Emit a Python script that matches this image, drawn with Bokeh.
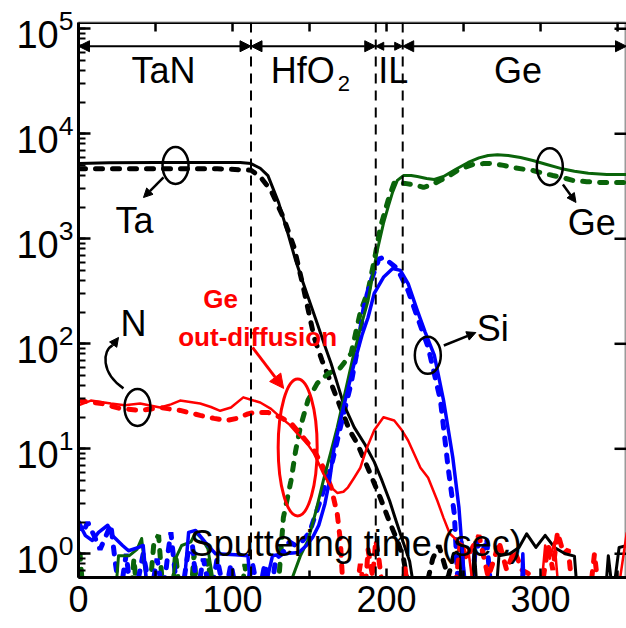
from bokeh.plotting import figure
from bokeh.models import (Range1d, FixedTicker, LogTicker, Span, Arrow, NormalHead)
from bokeh.core.properties import value
from bokeh.embed import file_html
from bokeh.resources import INLINE

FONT = "Liberation Sans"

# ---------------- data ----------------
# Ta, solid
ta_s_x = [0, 20, 50, 80, 105, 112, 118, 123, 130, 136, 141, 146, 151, 155, 160, 164, 168, 172, 179, 186,
          192, 197, 202, 206, 210, 215, 218, 222, 247, 249, 251, 255, 257, 259, 271, 273, 280, 286, 291,
          297, 303, 309, 316, 322, 324, 342, 344, 347, 351, 356]
ta_s_y = [5200, 5300, 5330, 5330, 5330, 5200, 4700, 4000, 2200, 1120, 620, 375, 230, 156, 95, 65, 42, 27, 16, 11,
          7.5, 5.0, 3.2, 2.1, 1.4, 0.85, 0.45, 0.4, 0.4, 1.3, 0.4, 0.4, 1.1, 0.4, 0.4, 0.96, 1.0, 1.15, 1.55,
          1.15, 1.5, 1.15, 1.0, 0.95, 0.4, 0.4, 0.96, 0.4, 1.15, 1.2]
# Ta, dashed
ta_d_x = [0, 30, 60, 90, 112, 118, 125, 133, 140, 146, 153, 158, 162, 170, 176, 181, 188, 196, 202, 207,
          211, 214, 226, 230, 234, 240, 246, 250]
ta_d_y = [4650, 4650, 4650, 4650, 4500, 3900, 2880, 1600, 826, 344, 115, 70, 50, 25, 15, 11.2, 6.5, 3.4, 2.0, 1.34,
          0.9, 0.5, 0.5, 0.9, 1.2, 0.6, 1.3, 0.4]
# Ge, solid
ge_s_x = [0, 24, 26, 33, 38, 41, 45, 60, 63, 67, 73, 76, 80, 84, 89, 137, 139, 144, 149, 154, 159, 164, 168,
          173, 178, 183, 188, 194, 198, 201, 204, 207, 211, 216, 220, 226, 231, 237, 245, 253, 260, 266, 272,
          279, 287, 295, 304, 313, 322, 331, 343, 356]
ge_s_y = [0.4, 0.4, 0.96, 0.96, 1.1, 1.4, 0.4, 0.4, 0.9, 1.2, 1.3, 1.6, 1.4, 1.12, 0.4, 0.4, 0.6, 0.95, 1.34,
          2.5, 5, 9.5, 16, 34, 72, 140, 258, 775, 1400, 2000, 2800, 3600, 4000, 4000, 3920, 3750, 3670, 3920,
          4600, 5330, 5900, 6220, 6300, 6220, 5950, 5570, 5100, 4680, 4400, 4200, 4100, 4100]
# Ge, dashed
ge_d_x = [0, 1, 3, 34, 36, 38, 46, 49, 52, 55, 61, 63, 66, 73, 75, 77, 82, 84, 87, 106, 108, 110, 127, 130,
          133, 138, 141, 144, 149, 155, 162, 170, 177, 183, 188, 192, 196, 201, 205, 212, 220, 224, 230, 235,
          241, 246, 251, 256, 263, 269, 276, 282, 289, 295, 302, 308, 315, 321, 330, 339, 356]
ge_d_y = [1.0, 1.0, 0.4, 0.4, 0.9, 0.4, 0.4, 1.3, 1.5, 0.4, 0.4, 1.0, 0.4, 0.4, 1.0, 0.4, 0.4, 0.9, 0.4, 0.4,
          0.8, 0.4, 0.4, 0.55, 2.2, 5, 9.6, 16, 29, 42, 52, 59, 81, 200, 320, 620, 1290, 2320, 3440, 3370, 3220,
          3080, 3300, 3600, 4000, 4470, 4800, 5100, 5200, 5210, 5000, 4780, 4600, 4470, 4200, 4010, 3800, 3600,
          3500, 3440, 3440]
# Si, solid
si_s_x = [0, 4.5, 9, 13, 19, 22, 28.6, 32.5, 39, 42, 45, 68, 71.5, 76, 82.5, 89, 102, 110, 112, 120, 126,
          133, 143, 148, 152, 156, 160, 163, 166, 172, 179, 184, 188, 192, 198, 204, 209, 214, 220, 225, 231,
          237, 243, 247, 250, 252, 287.5, 288.5, 289.5, 356]
si_s_y = [1.99, 1.49, 1.34, 1.6, 1.87, 1.49, 1.2, 1.07, 1.15, 1.2, 0.4, 0.4, 1.6, 1.67, 1.28, 1.0, 0.98, 0.96,
          0.4, 0.4, 0.96, 1.0, 1.03, 1.2, 1.43, 1.87, 3.0, 5.0, 10.3, 24.7, 65, 120, 178, 302, 430, 521, 500,
          375, 207, 130, 78, 29, 8.3, 2.76, 0.74, 0.4, 0.4, 1.0, 0.4, 0.4]
# Si, dashed
si_d_x = [0, 3, 6, 10, 14, 18, 21, 24, 27, 31, 34, 38, 42, 47, 51, 55, 58, 60, 63, 67, 71, 74, 77, 81, 86, 90,
          95, 99, 103, 108, 113, 117, 121, 125, 128, 132, 137, 141, 145, 150, 154, 157, 160, 164, 170, 177,
          181, 186, 190, 195, 198, 207, 214, 220, 227, 235, 240, 244, 246, 248, 255, 258, 262, 265, 268, 356]
si_d_y = [2.0, 1.6, 2.0, 1.5, 1.1, 1.5, 1.9, 0.8, 0.4, 1.0, 0.4, 0.5, 1.0, 0.4, 0.9, 0.4, 1.0, 1.6, 0.6, 0.4,
          1.0, 1.2, 0.4, 0.9, 0.4, 0.9, 0.4, 0.8, 0.4, 0.4, 0.8, 0.4, 0.8, 0.4, 0.9, 1.0, 1.3, 1.2, 1.3, 1.6,
          2.4, 3.2, 4.5, 6.7, 16, 42, 87, 250, 400, 640, 665, 521, 320, 180, 93, 29, 6.6, 2.4, 0.65, 0.4, 0.4,
          1.3, 1.0, 1.4, 0.4, 0.4]
# N, solid
n_s_x = [0, 8, 21, 30, 40, 53, 60, 66, 79, 86, 92, 99, 107, 113, 118, 125, 131, 137, 142, 148, 153, 159, 164,
         168, 172, 175, 179, 183, 187, 192, 198, 205, 210, 214, 222, 227, 233, 237, 241, 248, 253, 256, 300,
         303, 306, 309, 312, 350, 353, 356]
n_s_y = [25.9, 28.8, 27, 26, 27, 24.7, 26.5, 28.8, 27, 25, 23, 24.7, 30.9, 29, 27.6, 24, 20, 17, 14, 11.5, 9,
         5.8, 4.3, 3.8, 3.9, 4.3, 5.3, 6.6, 10, 15, 20, 18.6, 15, 12, 6.6, 5.3, 3.2, 2.2, 1.56, 1.25, 1.12, 0.5,
         0.4, 1.2, 0.9, 1.3, 0.4, 0.4, 0.8, 1.6]
# N, dashed
n_d_x = [0, 15, 27, 40, 53, 66, 79, 88, 96, 103, 110, 114, 123, 131, 138, 146, 153, 159, 164, 168, 170, 172,
         180, 183, 186, 188, 191, 193, 195, 198, 210, 212, 214, 244, 248, 252, 260, 266, 270, 273, 278, 283,
         288, 292, 300, 305, 308, 311, 315, 318, 321, 332, 335, 338, 356]
n_d_y = [28.8, 27, 24.2, 23.2, 24.7, 23.2, 20.8, 19.5, 18.6, 19.5, 21.5, 22.2, 22.2, 20, 17.5, 12.8, 9.6, 6.6,
         4.3, 2.4, 1.34, 0.4, 0.4, 0.8, 0.4, 1.1, 0.6, 1.35, 0.9, 0.4, 0.4, 0.75, 0.4, 0.4, 1.3, 0.9, 1.5, 0.6,
         0.9, 1.3, 0.7, 1.08, 0.7, 0.65, 0.4, 1.2, 0.7, 1.6, 1.0, 1.1, 0.4, 0.4, 1.0, 0.4, 0.4]

layer_edges = [0, 112, 193, 210.5, 355.8]
layer_bounds = [112, 193, 210.5]
x_major_ticks = [0, 100, 200, 300]
x_minor_ticks = [50, 150, 250, 350]
y_major_ticks = [1, 10, 100, 1000, 10000, 100000]

X_END = 355.8
Y_LO, Y_HI = 0.5947, 114800
PX_PER_X = 548 / X_END          # screen px per x unit
PX_PER_DEC = 555 / 5.2857       # screen px per decade

# ---------------- figure ----------------
p = figure(frame_width=548, frame_height=555,
           x_range=Range1d(0, X_END), y_range=Range1d(Y_LO, Y_HI),
           y_axis_type="log", output_backend="svg", toolbar_location=None,
           min_border_left=78, min_border_right=0, min_border_top=22, min_border_bottom=51)
p.xgrid.grid_line_color = None
p.ygrid.grid_line_color = None
p.outline_line_color = "#9a9a9a"
p.outline_line_width = 2
p.background_fill_color = "white"
p.border_fill_color = "white"

bottom = p.below[0]
bottom.ticker = FixedTicker(ticks=x_major_ticks, minor_ticks=x_minor_ticks)
bottom.major_label_text_font = FONT
bottom.major_label_text_font_size = "36px"
bottom.major_label_text_color = "black"
bottom.major_label_standoff = 8
bottom.axis_line_width = 3
bottom.major_tick_in = 9
bottom.major_tick_out = 0
bottom.minor_tick_in = 7
bottom.minor_tick_out = 0
bottom.major_tick_line_width = 2.5
bottom.minor_tick_line_width = 2.5

left = p.left[0]
left.ticker = LogTicker(num_minor_ticks=10)
left.major_label_text_font = FONT
left.major_label_text_font_size = "38px"
left.major_label_text_color = "black"
left.major_label_standoff = 5
left.axis_line_width = 3
left.major_tick_in = 12
left.major_tick_out = 0
left.minor_tick_in = 7
left.minor_tick_out = 0
left.major_tick_line_width = 2.5
left.minor_tick_line_width = 2

# top spine with inward ticks
p.segment(x0=[0], y0=[Y_HI], x1=[X_END], y1=[Y_HI], line_color="black", line_width=3)
top_ticks = x_major_ticks + x_minor_ticks
p.segment(x0=top_ticks, y0=[Y_HI] * len(top_ticks), x1=top_ticks,
          y1=[Y_HI / 10 ** (9 / PX_PER_DEC)] * len(top_ticks), line_color="black", line_width=2.5)
# right edge inward ticks (cut by the window edge)
p.segment(x0=[X_END] * len(y_major_ticks), y0=y_major_ticks,
          x1=[X_END - 12 / PX_PER_X] * len(y_major_ticks), y1=y_major_ticks,
          line_color="black", line_width=2.5)

GREEN = "#0a640a"
BLUE = "#0000ff"
RED = "#ff0000"
DASH = "7 10"

# dashed series
p.line(ta_d_x, ta_d_y, line_color="black", line_width=5, line_dash=DASH, line_cap="round")
p.line(ge_d_x, ge_d_y, line_color=GREEN, line_width=5, line_dash=DASH, line_cap="round")
p.line(si_d_x, si_d_y, line_color=BLUE, line_width=5, line_dash=DASH, line_cap="round")
p.line(n_d_x, n_d_y, line_color=RED, line_width=5, line_dash=DASH, line_cap="round")
# solid series
p.line(ta_s_x, ta_s_y, line_color="black", line_width=3, line_join="round")
p.line(ge_s_x, ge_s_y, line_color=GREEN, line_width=3, line_join="round")
p.line(si_s_x, si_s_y, line_color=BLUE, line_width=3.5, line_join="round")
p.line(n_s_x, n_s_y, line_color=RED, line_width=2.5, line_join="round")

# layer boundaries
for b in layer_bounds:
    p.add_layout(Span(location=b, dimension="height", line_color="black",
                      line_width=2, line_dash="10 7"))

# layer arrows
arrow_y = 68200
for i in range(len(layer_edges) - 1):
    hs = 8 if (layer_edges[i + 1] - layer_edges[i]) < 30 else 11
    p.add_layout(Arrow(x_start=layer_edges[i], x_end=layer_edges[i + 1], y_start=arrow_y, y_end=arrow_y,
                       line_width=2, line_color="black",
                       start=NormalHead(size=hs, fill_color="black", line_color="black", line_width=1),
                       end=NormalHead(size=hs, fill_color="black", line_color="black", line_width=1)))

def txt(x, y, s, size="36px", color="black", align="center", style="normal"):
    p.text(x=[x], y=[y], text=[s], text_font=value(FONT), text_font_size=size,
           text_color=color, text_align=align, text_baseline="alphabetic", text_font_style=style)

label_y = 40100
txt(55.2, label_y, "TaN")
txt(124.8, label_y, "HfO", align="left")
txt(168.3, 30100, "2", size="22px", align="left")
txt(194.6, label_y, "IL", align="left")
txt(285.3, label_y, "Ge")

txt(36.4, 1494, "Ta")
txt(333.3, 1429, "Ge")
txt(269, 140, "Si")
txt(35.7, 156, "N")
txt(92.3, 270, "Ge", size="26px", color=RED, style="bold")
txt(116.3, 115, "out-diffusion", size="26px", color=RED, style="bold")
txt(180, 1.25, "Sputtering time (sec)")

# ellipses
p.ellipse(x=[63, 306, 226.8, 38.3], y=[4990, 4860, 77.6, 24.8], width=26, height=37,
          width_units="screen", height_units="screen", fill_color=None, line_color="black", line_width=2.5)
p.ellipse(x=[142.3], y=[10.3], width=39, height=137, width_units="screen", height_units="screen",
          fill_color=None, line_color=RED, line_width=3)

# annotation arrows
def arr(x0, y0, x1, y1, color="black", size=9, lw=2.5):
    p.add_layout(Arrow(x_start=x0, y_start=y0, x_end=x1, y_end=y1, line_color=color, line_width=lw,
                       end=NormalHead(size=size, fill_color=color, line_color=color, line_width=1)))

arr(55.2, 3837, 42.2, 2472)
arr(314.5, 3290, 323, 2218)
arr(237.2, 96.4, 258, 128)
arr(113, 92.3, 133.2, 37.6, color=RED, size=14, lw=3)
p.bezier(x0=[29.2], y0=[37.6], x1=[22.1], y1=[96.4], cx0=[14.3], cy0=[53], cx1=[15.6], cy1=[86.5],
         line_color="black", line_width=2.5)
arr(22.1, 96.4, 26, 115)

open("out.html", "w").write(file_html(p, INLINE))
